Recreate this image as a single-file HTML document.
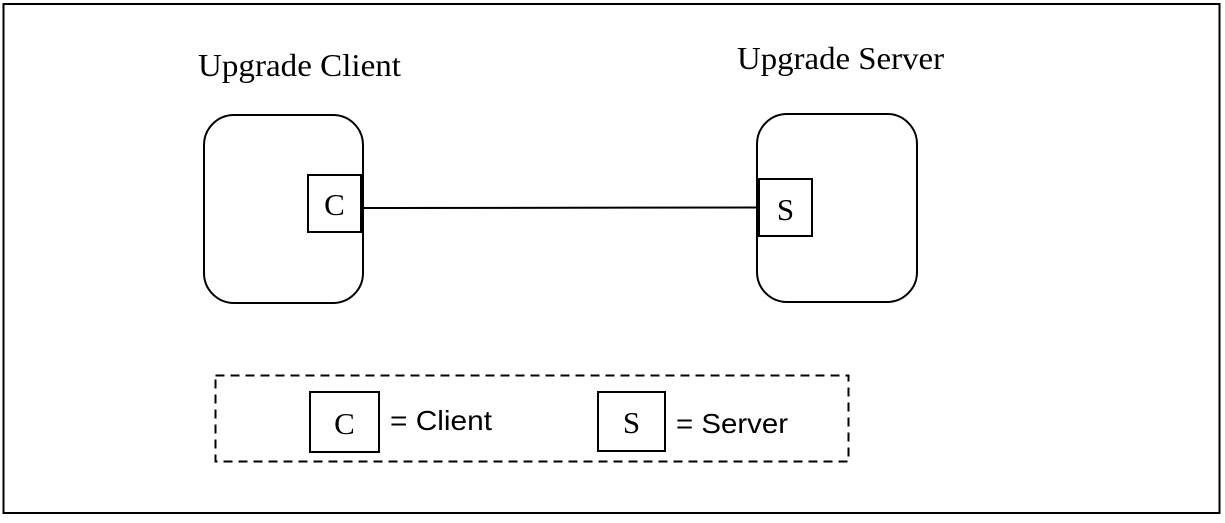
<!DOCTYPE html>
<html><head><style>body{margin:0;background:#fff}</style></head><body>
<svg width="1225" height="518" xmlns="http://www.w3.org/2000/svg">
<rect x="3.5" y="4" width="1216" height="509" fill="none" stroke="#000" stroke-width="2"/>
<text x="198" y="76" font-family="Liberation Serif, serif" font-size="32" textLength="203" lengthAdjust="spacingAndGlyphs">Upgrade Client</text>
<text x="737" y="69" font-family="Liberation Serif, serif" font-size="32" textLength="207" lengthAdjust="spacingAndGlyphs">Upgrade Server</text>
<rect x="204" y="115" width="159" height="188" rx="30" fill="none" stroke="#000" stroke-width="2"/>
<rect x="757" y="114" width="160" height="188" rx="30" fill="none" stroke="#000" stroke-width="2"/>
<line x1="362" y1="208" x2="758" y2="207.5" stroke="#000" stroke-width="2"/>
<rect x="308" y="175" width="53" height="57" fill="#fff" stroke="#000" stroke-width="2"/>
<text x="334.5" y="215" text-anchor="middle" font-family="Liberation Serif, serif" font-size="31">C</text>
<rect x="759" y="179" width="53" height="57" fill="#fff" stroke="#000" stroke-width="2"/>
<text x="785.5" y="220" text-anchor="middle" font-family="Liberation Serif, serif" font-size="31">S</text>
<rect x="215.5" y="375.5" width="633" height="86" fill="none" stroke="#000" stroke-width="2" stroke-dasharray="9,6"/>
<rect x="310" y="392" width="69" height="60" fill="none" stroke="#000" stroke-width="2"/>
<text x="344.5" y="434" text-anchor="middle" font-family="Liberation Serif, serif" font-size="31">C</text>
<text x="390" y="430" font-family="Liberation Sans, sans-serif" font-size="28" textLength="102" lengthAdjust="spacingAndGlyphs">= Client</text>
<rect x="598" y="392" width="67" height="59" fill="none" stroke="#000" stroke-width="2"/>
<text x="631.5" y="433" text-anchor="middle" font-family="Liberation Serif, serif" font-size="31">S</text>
<text x="676" y="433" font-family="Liberation Sans, sans-serif" font-size="28" textLength="112" lengthAdjust="spacingAndGlyphs">= Server</text>
</svg>
</body></html>
